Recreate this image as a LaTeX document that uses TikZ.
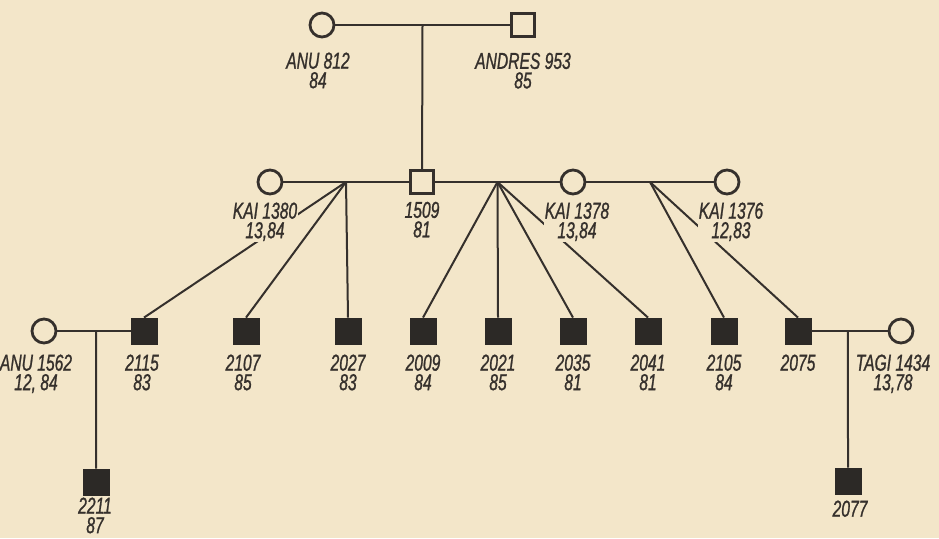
\documentclass[tikz,border=0pt]{standalone}
\usepackage{fontspec}
\newfontfamily\pedfont[FakeStretch=0.68, FakeBold=1]{Liberation Sans}
\usetikzlibrary{positioning,calc}
\definecolor{paper}{HTML}{F3E6C9}
\definecolor{ink}{HTML}{35302C}
\definecolor{inkfill}{HTML}{2C2926}

\begin{document}
\begin{tikzpicture}[
    x=1pt, y=-1pt,
    font=\pedfont\itshape\fontsize{23}{19.5}\selectfont,
    female/.style={circle, draw=ink, line width=2.8pt, minimum size=24pt, inner sep=0pt},
    male/.style={rectangle, draw=ink, line width=2.2pt, minimum size=23pt, inner sep=0pt},
    affected/.style={rectangle, draw=inkfill, fill=inkfill, line width=0.8pt, minimum size=26pt, inner sep=0pt},
    tag/.style={align=center, inner sep=1pt, text=ink, fill=paper},
    link/.style={draw=ink, line width=2pt}
]
\fill[paper] (0,0) rectangle (939,538);
\useasboundingbox (0,0) rectangle (939,538);

% grandparents
\node[female] (anu812) at (322,25) {};
\node[male] (andres953) at (523,25) {};

% parents
\node[female] (kai1380) at (270,182) {};
\node[male] (p1509) at (422,182) {};
\node[female] (kai1378) at (573,182) {};
\node[female] (kai1376) at (727,182) {};

% children row
\node[female] (anu1562) at (44,331) {};
\node[affected] (c2115) at (144,331) {};
\node[affected] (c2107) at (246,331) {};
\node[affected] (c2027) at (348,331) {};
\node[affected] (c2009) at (423,331) {};
\node[affected] (c2021) at (498,331) {};
\node[affected] (c2035) at (573,331) {};
\node[affected] (c2041) at (648,331) {};
\node[affected] (c2105) at (724,331) {};
\node[affected] (c2075) at (798,331) {};
\node[female] (tagi1434) at (901,331) {};

% grandchildren
\node[affected] (c2211) at (96,482) {};
\node[affected] (c2077) at (848,481) {};

% marriages
\coordinate (m0) at ($(anu812)!0.5!(andres953)$);
\coordinate (j1) at ($(kai1380)!0.5!(p1509)$);
\coordinate (j2) at ($(p1509)!0.5!(kai1378)$);
\coordinate (j3) at ($(kai1378)!0.5!(kai1376)$);
\coordinate (m1) at ($(anu1562)!0.52!(c2115)$);
\coordinate (m2) at ($(c2075)!0.485!(tagi1434)$);

\draw[link] (anu812) -- (andres953);
\draw[link] (m0) -- (p1509);
\draw[link] (kai1380) -- (p1509);
\draw[link] (p1509) -- (kai1378);
\draw[link] (kai1378) -- (kai1376);
\draw[link] (anu1562) -- (c2115);
\draw[link] (c2075) -- (tagi1434);

% descent
\foreach \kid in {c2115,c2107,c2027}
  \draw[link] (j1) -- (\kid.north);
\foreach \kid in {c2009,c2021,c2035,c2041}
  \draw[link] (j2) -- (\kid.north);
\foreach \kid in {c2105,c2075}
  \draw[link] (j3) -- (\kid.north);
\draw[link] (m1) -- (c2211);
\draw[link] (m2) -- (c2077);

% labels
\node[tag, below=13pt of anu812, xshift=-4pt] (t812) {ANU 812\\84};
\node[tag, below=14pt of andres953] (t953) {ANDRES 953\\85};
\node[tag, below=6pt of kai1380, xshift=-5pt] (t1380) {KAI 1380\\13,84};
\node[tag, below=6pt of p1509] (t1509) {1509\\81};
\node[tag, below=6pt of kai1378, xshift=4pt] (t1378) {KAI 1378\\13,84};
\node[tag, below=6pt of kai1376, xshift=4pt] (t1376) {KAI 1376\\12,83};
\node[tag, below=9pt of anu1562, xshift=-8pt] (t1562) {ANU 1562\\12, 84};
\node[tag, below=9pt of c2115, xshift=-2pt] (t2115) {2115\\83};
\node[tag, below=9pt of c2107, xshift=-3pt] (t2107) {2107\\85};
\node[tag, below=9pt of c2027] (t2027) {2027\\83};
\node[tag, below=9pt of c2009] (t2009) {2009\\84};
\node[tag, below=9pt of c2021] (t2021) {2021\\85};
\node[tag, below=9pt of c2035] (t2035) {2035\\81};
\node[tag, below=9pt of c2041] (t2041) {2041\\81};
\node[tag, below=9pt of c2105] (t2105) {2105\\84};
\node[tag, below=9pt of c2075] (t2075) {2075};
\node[tag, below=9pt of tagi1434, xshift=-8pt] (t1434) {TAGI 1434\\13,78};
\node[tag, below=1pt of c2211, xshift=-1pt] (t2211) {2211\\87};
\node[tag, below=5pt of c2077, xshift=2pt] (t2077) {2077};
\end{tikzpicture}
\end{document}
